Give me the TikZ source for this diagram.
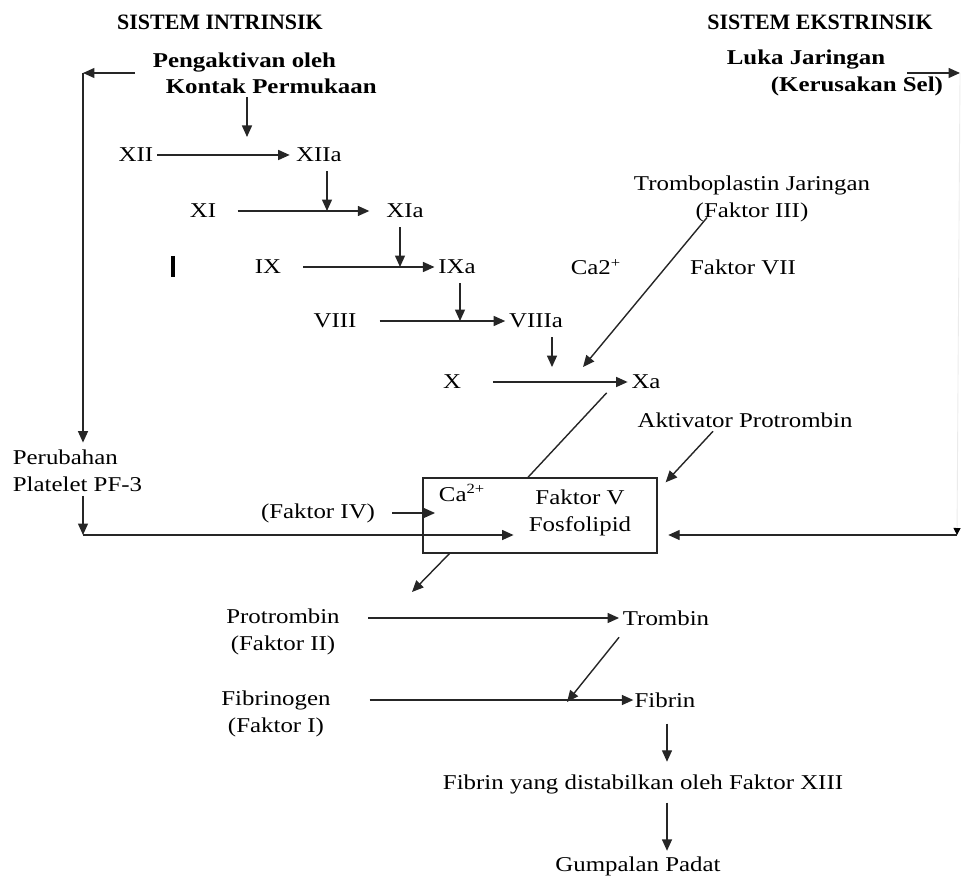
\documentclass[tikz,border=0pt]{standalone}
\usepackage{fontspec}
\setmainfont{Liberation Serif}[FakeStretch=1.18]
\newfontfamily\headfont{Liberation Serif}
\usetikzlibrary{arrows.meta, calc}

\begin{document}
\begin{tikzpicture}[
    x=0.02cm, y=-0.02cm,
    font=\fontsize{12}{15.5}\selectfont,
    lbl/.style={inner sep=2pt},
    hd/.style={inner sep=2pt, font=\headfont\bfseries\fontsize{12.5}{15}\selectfont},
    bhd/.style={inner sep=2pt, align=left, font=\bfseries\fontsize{12}{15}\selectfont},
    flow/.style={-{Triangle[length=2.3mm, width=2mm]}, line width=0.8pt, draw=black!85},
    link/.style={line width=0.8pt, draw=black!85},
    faint/.style={line width=0.5pt, draw=black!8},
    frame/.style={draw=black!85, line width=0.8pt, minimum width=4.68cm, minimum height=1.5cm, inner sep=0pt}
]
\useasboundingbox (0,0) rectangle (962,878);

% headings
\node[hd] (intr) at (220,22) {SISTEM INTRINSIK};
\node[hd] (ekstr) at (820,22) {SISTEM EKSTRINSIK};
\node[bhd, anchor=west] (peng) at (149,73) {Pengaktivan oleh\\\hspace*{0.26cm}Kontak Permukaan};
\node[bhd, anchor=west] (luka) at (723,73) {Luka Jaringan\\\hspace*{0.88cm}(Kerusakan Sel)};

% intrinsic cascade
\node[lbl] (fxii) at (136,155) {XII};
\node[lbl] (fxiia) at (319,155) {XIIa};
\node[lbl] (fxi) at (203,211) {XI};
\node[lbl] (fxia) at (405,211) {XIa};
\node[lbl] (fix) at (268,267) {IX};
\node[lbl] (fixa) at (457,267) {IXa};
\node[lbl] (fviii) at (335,321) {VIII};
\node[lbl] (fviiia) at (536,321) {VIIIa};
\node[lbl] (fx) at (452,382) {X};
\node[lbl] (fxa) at (646,382) {Xa};

% extrinsic side
\node[lbl] (ca2) at (596,267) {Ca2\textsuperscript{+}};
\node[lbl] (f7) at (743,267) {Faktor VII};
\node[lbl, align=center] (tromb) at (752,199) {Tromboplastin Jaringan\\(Faktor III)};
\node[lbl] (akt) at (745,420) {Aktivator Protrombin};

% complex
\node[lbl, align=left, anchor=west] (perub) at (9,471) {Perubahan\\Platelet PF-3};
\node[lbl] (f4) at (318,513) {(Faktor IV)};
\node[frame] (box) at (540,515.5) {};
\node[lbl] (ca) at (462,493) {Ca\textsuperscript{2+}};
\node[lbl, align=center] (fosf) at (580,513) {Faktor V\\Fosfolipid};

% common pathway
\node[lbl, align=center] (protr) at (283,632) {Protrombin\\(Faktor II)};
\node[lbl] (trombin) at (666,618) {Trombin};
\node[lbl, align=center] (fibg) at (276,714) {Fibrinogen\\(Faktor I)};
\node[lbl] (fibrin) at (665,700) {Fibrin};
\node[lbl] (stab) at (643,784) {Fibrin yang distabilkan oleh Faktor XIII};
\node[lbl] (gump) at (638,866) {Gumpalan Padat};

\draw[line width=2.2pt] (173,256) -- (173,277);

\coordinate (k1) at (247,137);
\coordinate (tl) at (83,73);
\coordinate (bl) at (83,535);
\coordinate (tr) at (960,73);
\coordinate (br) at (957,535);
\coordinate (tp) at (583,367);
\coordinate (pb) at (412,592);
\coordinate (th) at (567,702);

\draw[flow] (peng.south -| k1) -- (k1);
\foreach \a/\b/\s/\e in {fxii/fxiia/0pt/1.5pt, fxi/fxia/10pt/7.5pt, fix/fixa/10.5pt/0pt,
                         fviii/fviiia/11pt/0pt, fx/fxa/16pt/0pt}
  {\draw[flow, shorten <=\s, shorten >=\e] (\a) -- (\b);}
\foreach \a/\b/\d/\e in {fxiia/fxi/0.16cm/0pt, fxia/fix/-0.1cm/0pt, fixa/fviii/0.06cm/0pt,
                         fviiia/fx/0.32cm/8.5pt}
  {\draw[flow, shorten <=3pt, shorten >=\e] ($(\a.south)+(\d,0)$) -- ($(\a.south |- \b)+(\d,0)$);}

% left loop
\draw[flow] ([xshift=-0.28cm]peng.west) -- (tl);
\draw[flow, shorten >=2pt] (tl) -- (perub.north -| tl);
\draw[flow] (perub.south -| tl) -- (bl);
\draw[flow, shorten >=6.5pt] (bl) -- (fosf.west |- bl);
\draw[flow, shorten <=7.7pt] (f4.east) -- (ca.west |- f4);

% right loop
\draw[flow] ([xshift=-0.79cm]luka.east) -- (tr);
\draw[faint, -{Triangle[length=1.4mm, width=1.4mm, color=black]}] (tr) -- (br);
\draw[flow, shorten >=6pt] (br) -- (box.east |- br);

\draw[flow] ([xshift=-0.9cm, yshift=0.17cm]tromb.south) -- (tp);
\draw[link] ([xshift=-0.42cm]fxa.south west) -- ([xshift=-0.24cm]box.north);
\draw[flow] ([xshift=-0.64cm]akt.south) -- ([xshift=0.16cm, yshift=-0.1cm]box.north east);
\draw[flow] ([xshift=0.54cm]box.south west) -- (pb);

\draw[flow, shorten <=14pt] (protr.east |- trombin) -- (trombin.west);
\draw[flow, shorten <=20pt, shorten >=-1.5pt] (fibg.east |- fibrin) -- (fibrin.west);
\draw[flow] ([yshift=-0.16cm]trombin.south west) -- (th);
\draw[flow, shorten <=7pt, shorten >=5pt] ($(fibrin.south)+(0.04cm,0)$) -- ($(fibrin.south |- stab.north)+(0.04cm,0)$);
\draw[flow, shorten <=3pt, shorten >=1pt] ($(stab.south -| fibrin.south)+(0.04cm,0)$) -- ($(gump.north -| fibrin.south)+(0.04cm,0)$);
\end{tikzpicture}
\end{document}
